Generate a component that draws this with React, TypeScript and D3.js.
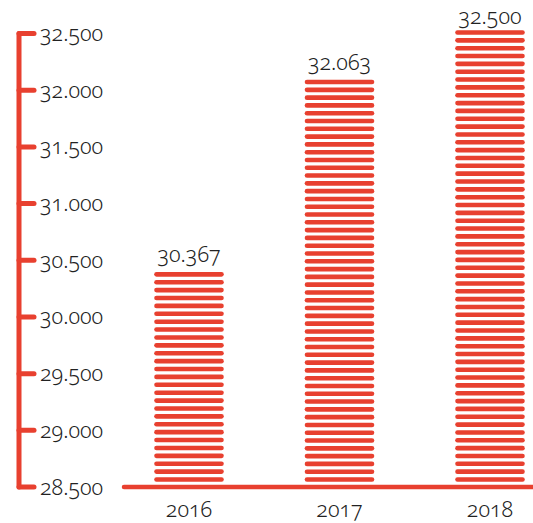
import React from "react";
import * as d3 from "d3";

const years = ["2016", "2017", "2018"];
const values = [30367, 32063, 32500];
const valueLabels = ["30.367", "32.063", "32.500"];
const tickValues = [28500, 29000, 29500, 30000, 30500, 31000, 31500, 32000, 32500];
const tickLabels = ["28.500", "29.000", "29.500", "30.000", "30.500", "31.000", "31.500", "32.000", "32.500"];

const RED = "#e8402f";
const TEXT = "#222";
const FONT = "'Noto Sans', 'Open Sans', sans-serif";

export default function App() {
  const W = 533, H = 523;
  const y = d3.scaleLinear().domain([28500, 32500]).range([487, 33.5]);
  const x = d3.scalePoint<string>().domain(years).range([189, 490]);
  const barW = 69;
  const baseY = y(28500);
  const lastStripe = baseY - 7.5;
  const fs = 21.5;
  const textStyle = { fontVariantNumeric: "oldstyle-nums" as const };

  return (
    <svg width={W} height={H} style={{ position: "absolute", left: 0, top: 0 }}>
      {/* y axis */}
      <line x1={19} x2={19} y1={y(32500)} y2={y(28500)} stroke={RED} strokeWidth={5} strokeLinecap="round" />
      {tickValues.map((t, i) => (
        <g key={t}>
          <line x1={19} x2={34} y1={y(t)} y2={y(t)} stroke={RED} strokeWidth={5} strokeLinecap="round" />
          <text x={40} y={y(t)} dy="0.35em" fontSize={fs} fontWeight={300} fill={TEXT} fontFamily={FONT}
            style={textStyle}>{tickLabels[i]}</text>
        </g>
      ))}
      {/* baseline */}
      <line x1={124} x2={533} y1={baseY} y2={baseY} stroke={RED} strokeWidth={4.5} strokeLinecap="round" />
      {/* bars */}
      {years.map((yr, i) => {
        const cx = x(yr)!;
        const top = y(values[i]) - 1;
        const n = Math.round((lastStripe - top) / 7.8);
        const step = (lastStripe - top) / n;
        const stripes = d3.range(n + 1).map((k) => top + k * step);
        return (
          <g key={yr}>
            {stripes.map((sy, k) => (
              <line key={k} x1={cx - barW / 2 + 2} x2={cx + barW / 2 - 2} y1={sy} y2={sy}
                stroke={RED} strokeWidth={4.6} strokeLinecap="round" />
            ))}
            <text x={cx} y={Math.max(top - 12.5, 24)} textAnchor="middle" fontSize={fs} fontWeight={300} fill={TEXT} fontFamily={FONT}
              style={textStyle}>{valueLabels[i]}</text>
            <text x={cx} y={517} textAnchor="middle" fontSize={fs} fontWeight={300} fill={TEXT} fontFamily={FONT}
              style={textStyle}>{yr}</text>
          </g>
        );
      })}
    </svg>
  );
}
